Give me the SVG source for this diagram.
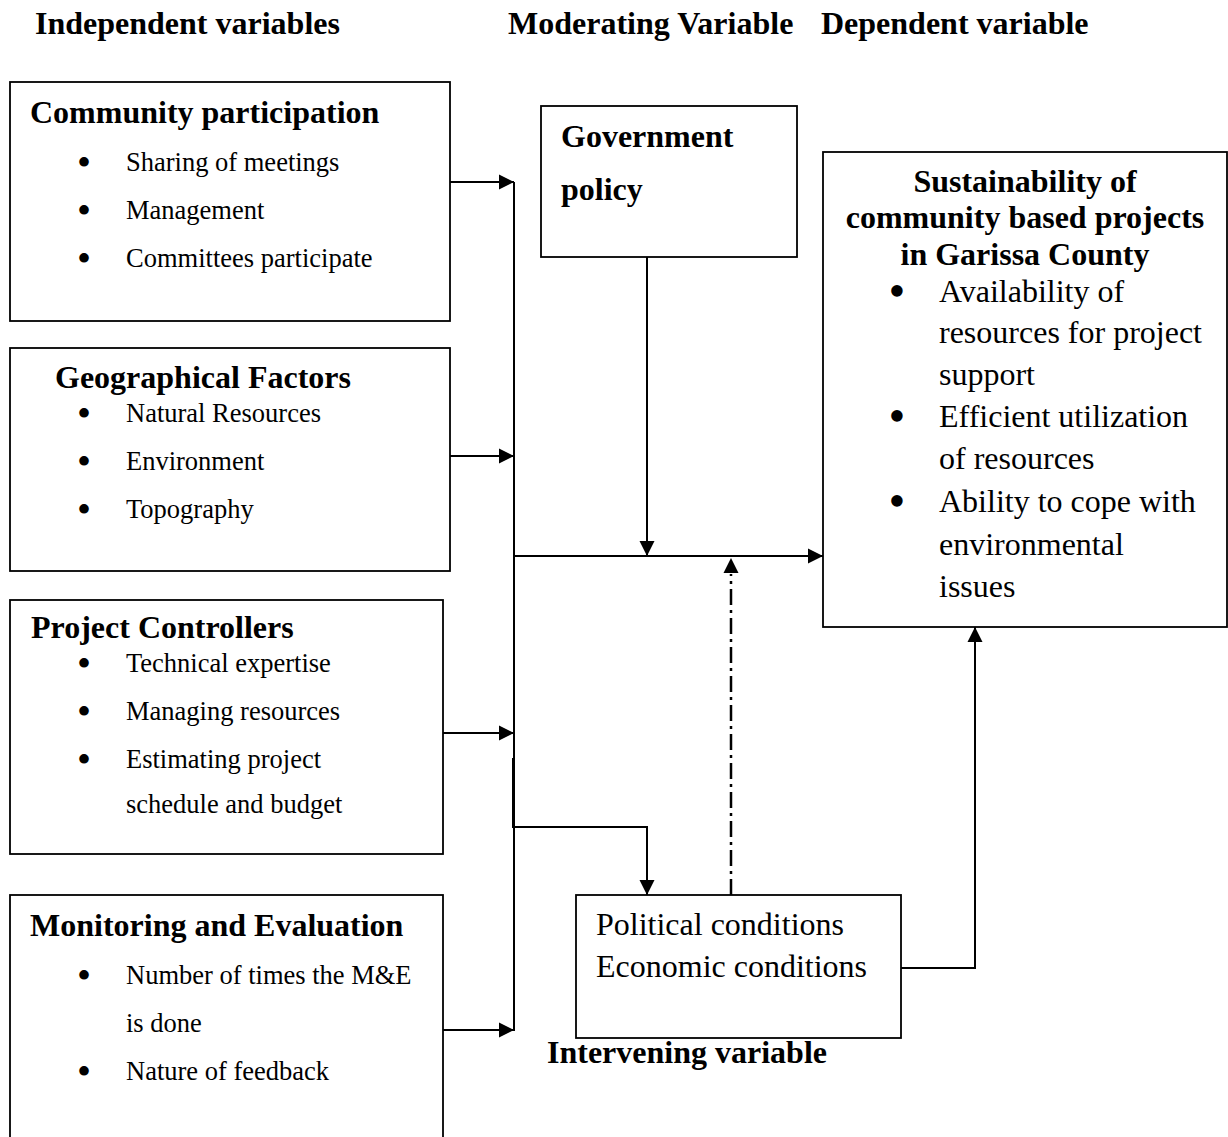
<svg xmlns="http://www.w3.org/2000/svg" width="1228" height="1137" viewBox="0 0 1228 1137">
<style>
  text { font-family: "Liberation Serif", "Times New Roman", serif; fill: #000; }
  .h { font-weight: bold; font-size: 32px; }
  .b { font-size: 26.5px; }
  .r { font-size: 32px; }
  .bl { font-size: 40px; text-anchor: middle; }
  .br { font-size: 48px; text-anchor: middle; }
  .box { fill: #fff; stroke: #000; stroke-width: 1.8; }
  .ln { fill: none; stroke: #000; stroke-width: 2; }
  .dd { fill: none; stroke: #000; stroke-width: 2.5; stroke-dasharray: 16 5 3 5; }
</style>
<defs>
  <marker id="arr" markerUnits="userSpaceOnUse" markerWidth="16" markerHeight="16" viewBox="0 0 16 16" refX="15" refY="8" orient="auto">
    <path d="M0,0.5 L15,8 L0,15.5 Z" fill="#000"/>
  </marker>
</defs>
<rect width="1228" height="1137" fill="#fff"/>

<g id="headers">
  <text class="h" x="35" y="34">Independent variables</text>
  <text class="h" x="508" y="34">Moderating Variable</text>
  <text class="h" x="821" y="34">Dependent variable</text>
</g>

<g id="community-participation">
  <rect class="box" x="10" y="82" width="440" height="239"/>
  <text class="h" x="30" y="123">Community participation</text>
  <text class="bl" x="84" y="176">•</text>
  <text class="b" x="126" y="171">Sharing of meetings</text>
  <text class="bl" x="84" y="224">•</text>
  <text class="b" x="126" y="219">Management</text>
  <text class="bl" x="84" y="272">•</text>
  <text class="b" x="126" y="267">Committees participate</text>
</g>

<g id="geographical-factors">
  <rect class="box" x="10" y="348" width="440" height="223"/>
  <text class="h" x="55" y="388">Geographical Factors</text>
  <text class="bl" x="84" y="427">•</text>
  <text class="b" x="126" y="422">Natural Resources</text>
  <text class="bl" x="84" y="475">•</text>
  <text class="b" x="126" y="470">Environment</text>
  <text class="bl" x="84" y="523">•</text>
  <text class="b" x="126" y="518">Topography</text>
</g>

<g id="project-controllers">
  <rect class="box" x="10" y="600" width="433" height="254"/>
  <text class="h" x="31" y="638">Project Controllers</text>
  <text class="bl" x="84" y="677">•</text>
  <text class="b" x="126" y="672">Technical expertise</text>
  <text class="bl" x="84" y="725">•</text>
  <text class="b" x="126" y="720">Managing resources</text>
  <text class="bl" x="84" y="773">•</text>
  <text class="b" x="126" y="768">Estimating project</text>
  <text class="b" x="126" y="813">schedule and budget</text>
</g>

<g id="monitoring-evaluation">
  <rect class="box" x="10" y="895" width="433" height="260"/>
  <text class="h" x="30" y="936">Monitoring and Evaluation</text>
  <text class="bl" x="84" y="989">•</text>
  <text class="b" x="126" y="984">Number of times the M&amp;E</text>
  <text class="b" x="126" y="1032">is done</text>
  <text class="bl" x="84" y="1085">•</text>
  <text class="b" x="126" y="1080">Nature of feedback</text>
</g>

<g id="government-policy">
  <rect class="box" x="541" y="106" width="256" height="151"/>
  <text class="h" x="561" y="147">Government</text>
  <text class="h" x="561" y="200">policy</text>
</g>

<g id="sustainability">
  <rect class="box" x="823" y="152" width="404" height="475"/>
  <text class="h" x="1025" y="192" text-anchor="middle">Sustainability of</text>
  <text class="h" x="1025" y="228" text-anchor="middle">community based projects</text>
  <text class="h" x="1025" y="265" text-anchor="middle">in Garissa County</text>
  <text class="br" x="897" y="307">•</text>
  <text class="r" x="939" y="302">Availability of</text>
  <text class="r" x="939" y="343">resources for project</text>
  <text class="r" x="939" y="385">support</text>
  <text class="br" x="897" y="432">•</text>
  <text class="r" x="939" y="427">Efficient utilization</text>
  <text class="r" x="939" y="469">of resources</text>
  <text class="br" x="897" y="517">•</text>
  <text class="r" x="939" y="512">Ability to cope with</text>
  <text class="r" x="939" y="555">environmental</text>
  <text class="r" x="939" y="597">issues</text>
</g>

<g id="intervening">
  <rect class="box" x="576" y="895" width="325" height="143"/>
  <text class="r" x="596" y="935">Political conditions</text>
  <text class="r" x="596" y="977">Economic conditions</text>
  <text class="h" x="547" y="1063">Intervening variable</text>
</g>

<g id="connectors">
  <line class="ln" x1="514" y1="182" x2="514" y2="1031"/>
  <line class="ln" x1="450" y1="182" x2="514" y2="182" marker-end="url(#arr)"/>
  <line class="ln" x1="450" y1="456" x2="514" y2="456" marker-end="url(#arr)"/>
  <line class="ln" x1="443" y1="733" x2="514" y2="733" marker-end="url(#arr)"/>
  <line class="ln" x1="443" y1="1030" x2="514" y2="1030" marker-end="url(#arr)"/>
  <line class="ln" x1="514" y1="556" x2="823" y2="556" marker-end="url(#arr)"/>
  <line class="ln" x1="647" y1="257" x2="647" y2="556" marker-end="url(#arr)"/>
  <polyline class="ln" points="513,758 513,827 647,827 647,895" marker-end="url(#arr)"/>
  <line class="dd" x1="731" y1="895" x2="731" y2="574"/>
  <path d="M723.5,573 L731,558 L738.5,573 Z" fill="#000"/>
  <polyline class="ln" points="901,968 975,968 975,627" marker-end="url(#arr)"/>
</g>
</svg>
